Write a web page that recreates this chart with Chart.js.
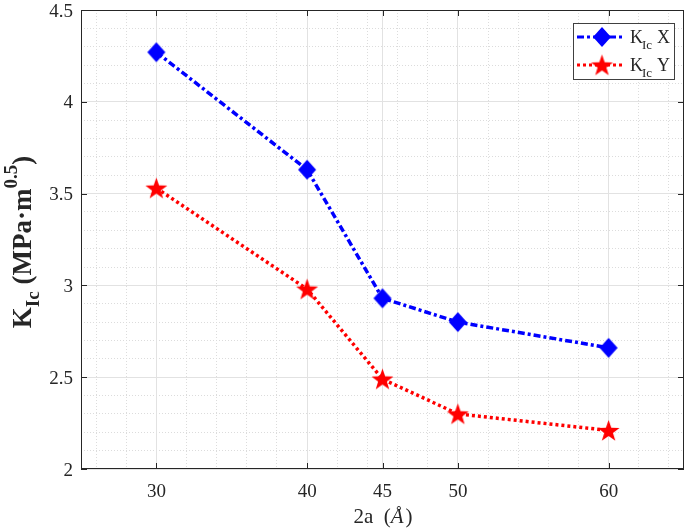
<!DOCTYPE html>
<html>
<head>
<meta charset="utf-8">
<script src="https://cdn.jsdelivr.net/npm/chart.js@4/dist/chart.umd.min.js"></script>
<style>
  html, body { margin: 0; padding: 0; background: #fff; }
  #wrap { width: 687px; height: 531px; }
</style>
</head>
<body>
<div id="wrap"><canvas id="kicChart" width="687" height="531"></canvas></div>
<script>
// crack length 2a (Angstrom) vs fracture toughness K_Ic
var crackLen = [30, 40, 45, 50, 60];
var kicX = [4.27, 3.63, 2.93, 2.80, 2.66];
var kicY = [3.53, 2.98, 2.49, 2.30, 2.21];
var xTicks = [30, 40, 45, 50, 60];
var yTicks = [2, 2.5, 3, 3.5, 4, 4.5];
var yTickLabels = ['2', '2.5', '3', '3.5', '4', '4.5'];

var SERIF = "'Liberation Serif', 'DejaVu Serif', serif";
var AXIS_COL = '#262626';
var BLUE_DASH = [7, 3, 3, 3];
var RED_DASH = [3, 3];

function starImage(r, color) {
  var c = document.createElement('canvas');
  var s = Math.ceil(r * 2) + 2;
  c.width = s; c.height = s;
  var g = c.getContext('2d');
  g.fillStyle = color;
  g.beginPath();
  for (var i = 0; i < 10; i++) {
    var rad = (i % 2 === 0) ? r : r * 0.4;
    var a = -Math.PI / 2 + i * Math.PI / 5;
    var px = s / 2 + rad * Math.cos(a), py = s / 2 + rad * Math.sin(a) + 1;
    if (i === 0) g.moveTo(px, py); else g.lineTo(px, py);
  }
  g.closePath();
  g.fill();
  return c;
}
function diamondImage(hw, hh, color) {
  var c = document.createElement('canvas');
  c.width = hw * 2 + 2; c.height = hh * 2 + 2;
  var g = c.getContext('2d');
  var cx = c.width / 2, cy = c.height / 2;
  g.fillStyle = color;
  g.beginPath();
  g.moveTo(cx, cy - hh); g.lineTo(cx + hw, cy); g.lineTo(cx, cy + hh); g.lineTo(cx - hw, cy);
  g.closePath();
  g.fill();
  return c;
}
var redStar = starImage(11.5, '#ff0000');
var blueDiamond = diamondImage(9, 10, '#0000ff');

function pts(ys) {
  return crackLen.map(function(x, i) { return { x: x, y: ys[i] }; });
}

function range(a, b, step) {
  var out = [];
  for (var v = a; v <= b + 1e-9; v += step) out.push({ value: Math.round(v * 1000) / 1000 });
  return out;
}

// parts = [[text, size, dy, bold]]
function drawParts(g, parts, x, y) {
  var cx = x;
  parts.forEach(function(p) {
    g.font = (p[3] ? 'bold ' : '') + p[1] + 'px ' + SERIF;
    g.fillText(p[0], cx, y + p[2]);
    cx += g.measureText(p[0]).width;
  });
  return cx - x;
}
function partsWidth(g, parts) {
  var w = 0;
  parts.forEach(function(p) {
    g.font = (p[3] ? 'bold ' : '') + p[1] + 'px ' + SERIF;
    w += g.measureText(p[0]).width;
  });
  return w;
}

var decorations = {
  id: 'decorations',
  afterDraw: function(chart) {
    var g = chart.ctx, a = chart.chartArea;
    var xs = chart.scales.x, ys = chart.scales.y;
    g.save();
    // box
    g.strokeStyle = AXIS_COL;
    g.lineWidth = 1;
    g.strokeRect(a.left + 0.5, a.top + 0.5, a.right - a.left - 1, a.bottom - a.top - 1);
    // inner ticks
    g.beginPath();
    xTicks.forEach(function(v) {
      var px = Math.round(xs.getPixelForValue(v)) + 0.5;
      g.moveTo(px, a.bottom); g.lineTo(px, a.bottom - 6);
      g.moveTo(px, a.top); g.lineTo(px, a.top + 6);
    });
    yTicks.forEach(function(v) {
      var py = Math.round(ys.getPixelForValue(v)) + 0.5;
      g.moveTo(a.left, py); g.lineTo(a.left + 6, py);
      g.moveTo(a.right, py); g.lineTo(a.right - 6, py);
    });
    g.stroke();

    // tick labels
    g.fillStyle = AXIS_COL;
    g.font = '19px ' + SERIF;
    g.textAlign = 'center';
    g.textBaseline = 'alphabetic';
    xTicks.forEach(function(v) {
      g.fillText(String(v), xs.getPixelForValue(v), 497);
    });
    g.textAlign = 'right';
    yTicks.forEach(function(v, i) {
      g.fillText(yTickLabels[i], 73, ys.getPixelForValue(v) + 6.5);
    });
    g.textAlign = 'left';

    // y axis title
    var yParts = [['K', 27, 0, true], ['Ic', 19, 8, true], [' (MPa\u00b7m', 27, 0, true], ['0.5', 19, -14, true], [')', 27, 0, true]];
    var w = partsWidth(g, yParts);
    g.translate(31, 242);
    g.rotate(-Math.PI / 2);
    drawParts(g, yParts, -w / 2, 0);
    g.setTransform(1, 0, 0, 1, 0, 0);

    // x axis title
    g.font = '21px ' + SERIF; var w1 = g.measureText('2a  (').width;
    g.font = 'italic 21px ' + SERIF; var w2 = g.measureText('\u00c5').width;
    g.font = '21px ' + SERIF; var w3 = g.measureText(')').width;
    var x0 = 383 - (w1 + w2 + w3 + 2) / 2, yb = 523;
    g.font = '21px ' + SERIF; g.fillText('2a  (', x0, yb);
    g.font = 'italic 21px ' + SERIF; g.fillText('\u00c5', x0 + w1, yb);
    g.font = '21px ' + SERIF; g.fillText(')', x0 + w1 + w2 + 2, yb);

    // legend
    var lx = 573, ly = 23, lw = 101, lh = 56;
    g.fillStyle = '#fff';
    g.fillRect(lx, ly, lw, lh);
    g.strokeStyle = '#404040';
    g.lineWidth = 1;
    g.strokeRect(lx + 0.5, ly + 0.5, lw, lh);
    var rows = [
      { y: 37, color: '#0000ff', dash: BLUE_DASH, label: 'X', img: blueDiamond },
      { y: 65, color: '#ff0000', dash: RED_DASH, label: 'Y', img: redStar }
    ];
    rows.forEach(function(r) {
      g.strokeStyle = r.color;
      g.lineWidth = 3;
      g.setLineDash(r.dash);
      g.beginPath(); g.moveTo(577, r.y); g.lineTo(624, r.y); g.stroke();
      g.setLineDash([]);
      g.drawImage(r.img, 602 - r.img.width / 2, r.y - r.img.height / 2);
      g.fillStyle = AXIS_COL;
      g.font = '18px ' + SERIF; g.fillText('K', 630, r.y + 6);
      g.font = '13px ' + SERIF; g.fillText('Ic', 642, r.y + 12);
      g.font = '18px ' + SERIF; g.fillText(r.label, 657, r.y + 6);
    });
    g.restore();
  }
};

new Chart(document.getElementById('kicChart'), {
  type: 'scatter',
  data: {
    datasets: [
      {
        label: 'K_Ic X',
        data: pts(kicX),
        showLine: true,
        borderColor: '#0000ff',
        backgroundColor: '#0000ff',
        borderWidth: 3.5,
        borderDash: BLUE_DASH,
        pointStyle: blueDiamond,
        pointRadius: 10,
        pointHoverRadius: 10
      },
      {
        label: 'K_Ic Y',
        data: pts(kicY),
        showLine: true,
        borderColor: '#ff0000',
        backgroundColor: '#ff0000',
        borderWidth: 3.5,
        borderDash: RED_DASH,
        pointStyle: redStar,
        pointRadius: 11,
        pointHoverRadius: 11
      }
    ]
  },
  options: {
    responsive: false,
    animation: false,
    layout: { autoPadding: false, padding: { top: 10, right: 3, left: 0, bottom: 0 } },
    plugins: { legend: { display: false }, tooltip: { enabled: false } },
    scales: {
      xMinor: {
        type: 'linear', position: 'bottom', min: 25, max: 65,
        afterBuildTicks: function(s) { s.ticks = range(26, 64, 2); },
        afterFit: function(s) { s.height = 0; },
        ticks: { display: false },
        grid: { color: '#dcdcdc', lineWidth: 1, drawTicks: false },
        border: { display: false, dash: [1, 2] }
      },
      yMinor: {
        type: 'linear', position: 'left', min: 2, max: 4.5,
        afterBuildTicks: function(s) { s.ticks = range(2, 4.5, 0.1); },
        afterFit: function(s) { s.width = 0; },
        ticks: { display: false },
        grid: { color: '#dcdcdc', lineWidth: 1, drawTicks: false },
        border: { display: false, dash: [1, 2] }
      },
      x: {
        type: 'linear', min: 25, max: 65,
        afterBuildTicks: function(s) { s.ticks = xTicks.map(function(v) { return { value: v }; }); },
        afterFit: function(s) { s.height = 62; },
        ticks: { display: false },
        grid: { color: '#e2e2e2', lineWidth: 1, drawTicks: false },
        border: { display: false }
      },
      y: {
        type: 'linear', min: 2, max: 4.5,
        afterBuildTicks: function(s) { s.ticks = yTicks.map(function(v) { return { value: v }; }); },
        afterFit: function(s) { s.width = 81; },
        ticks: { display: false },
        grid: { color: '#e2e2e2', lineWidth: 1, drawTicks: false },
        border: { display: false }
      }
    }
  },
  plugins: [decorations]
});
</script>
</body>
</html>
